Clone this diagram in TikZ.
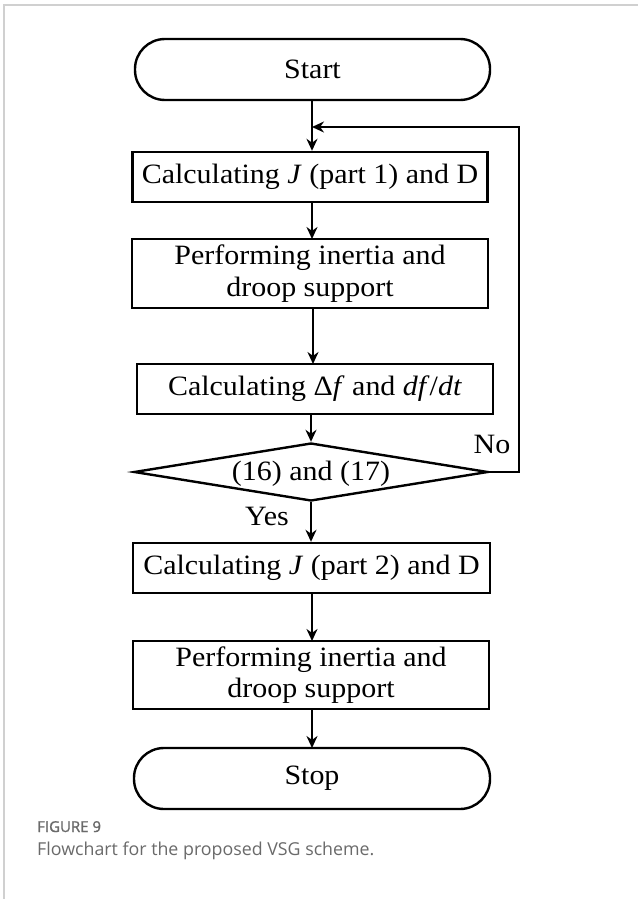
\documentclass[tikz,border=0pt]{standalone}
\usepackage{fontspec}
\setmainfont{Liberation Serif}[FakeStretch=1.07]
\newfontfamily\capfont{Open Sans}
\newfontfamily\capfontsb{Open Sans}[FakeBold=1.2]
\usetikzlibrary{shapes.geometric,arrows.meta}
\definecolor{framegray}{HTML}{D0D0D0}
\definecolor{capgray}{HTML}{6A6A6A}
\tikzset{
  flow/.style={line width=2.4pt},
  boxnode/.style={draw, line width=2.4pt, minimum width=355pt, inner sep=0pt, align=center, font=\fontsize{28}{31.5}\selectfont},
  termnode/.style={boxnode, rounded corners=30pt, minimum height=61pt},
  conn/.style={flow, -{Stealth[length=12pt,width=11pt]}},
  lbl/.style={inner sep=0pt, font=\fontsize{28}{31.5}\selectfont}
}
\begin{document}
\begin{tikzpicture}[x=1pt,y=-1pt]
\useasboundingbox (0,0) rectangle (638,899);
\fill[white] (0,0) rectangle (638,899);
\draw[framegray, line width=1.5pt] (4,899) -- (4,5) -- (638,5);

\node[termnode] (start) at (312.5,69.5) {Start};
\node[boxnode, minimum height=50pt] (b1) at (310,177) {Calculating \textit{J} (part 1) and D};
\node[boxnode, minimum height=69pt, minimum width=356pt] (b2) at (310,273.5) {Performing inertia and\\droop support};
\node[boxnode, minimum height=50pt, minimum width=356pt] (b3) at (315,389) {Calculating Δ\textit{f} and \textit{df}/\textit{dt}};
\node[draw, diamond, flow, minimum width=354pt, minimum height=58pt, inner sep=0pt] (d) at (311,472) {};
\node[lbl] (dtext) at (311,474) {(16) and (17)};
\node[boxnode, minimum height=50pt, minimum width=357pt] (b4) at (311.5,568) {Calculating \textit{J} (part 2) and D};
\node[boxnode, minimum height=68pt, minimum width=356pt] (b5) at (311,675) {Performing inertia and\\droop support};
\node[termnode, minimum width=356pt] (stop) at (312,778.5) {Stop};

\coordinate (merge) at (312,127);
\coordinate (loopR) at (519,472);
\coordinate (loopT) at (519,127);

\draw[flow] (start.south -| merge) -- (merge);
\draw[conn] (merge) -- (merge |- b1.north);
\draw[conn] (d.east) -- (loopR) -- (loopT) -- (merge);
\draw[conn] (b1.south -| 312,0) -- (312,239);
\draw[conn] (b2.south -| 313,0) -- (313,364);
\draw[conn] (b3.south -| d.north) -- (d.north);
\draw[conn] (d.south) -- (d.south |- b4.north);
\draw[conn] (b4.south -| 312,0) -- (312,641);
\draw[conn] (b5.south -| 312,0) -- (312,748);

\node[lbl] (no) at (492,444) {No};
\node[lbl] (yes) at (267,516) {Yes};

\node[anchor=base west, inner sep=0pt, text=capgray, font=\capfontsb\fontsize{15}{17}\selectfont] (figlbl) at (37,832) {FIGURE 9};
\node[anchor=base west, inner sep=0pt, text=capgray, font=\capfont\fontsize{17.8}{20}\selectfont] (cap) at (37,855) {Flowchart for the proposed VSG scheme.};
\end{tikzpicture}
\end{document}
